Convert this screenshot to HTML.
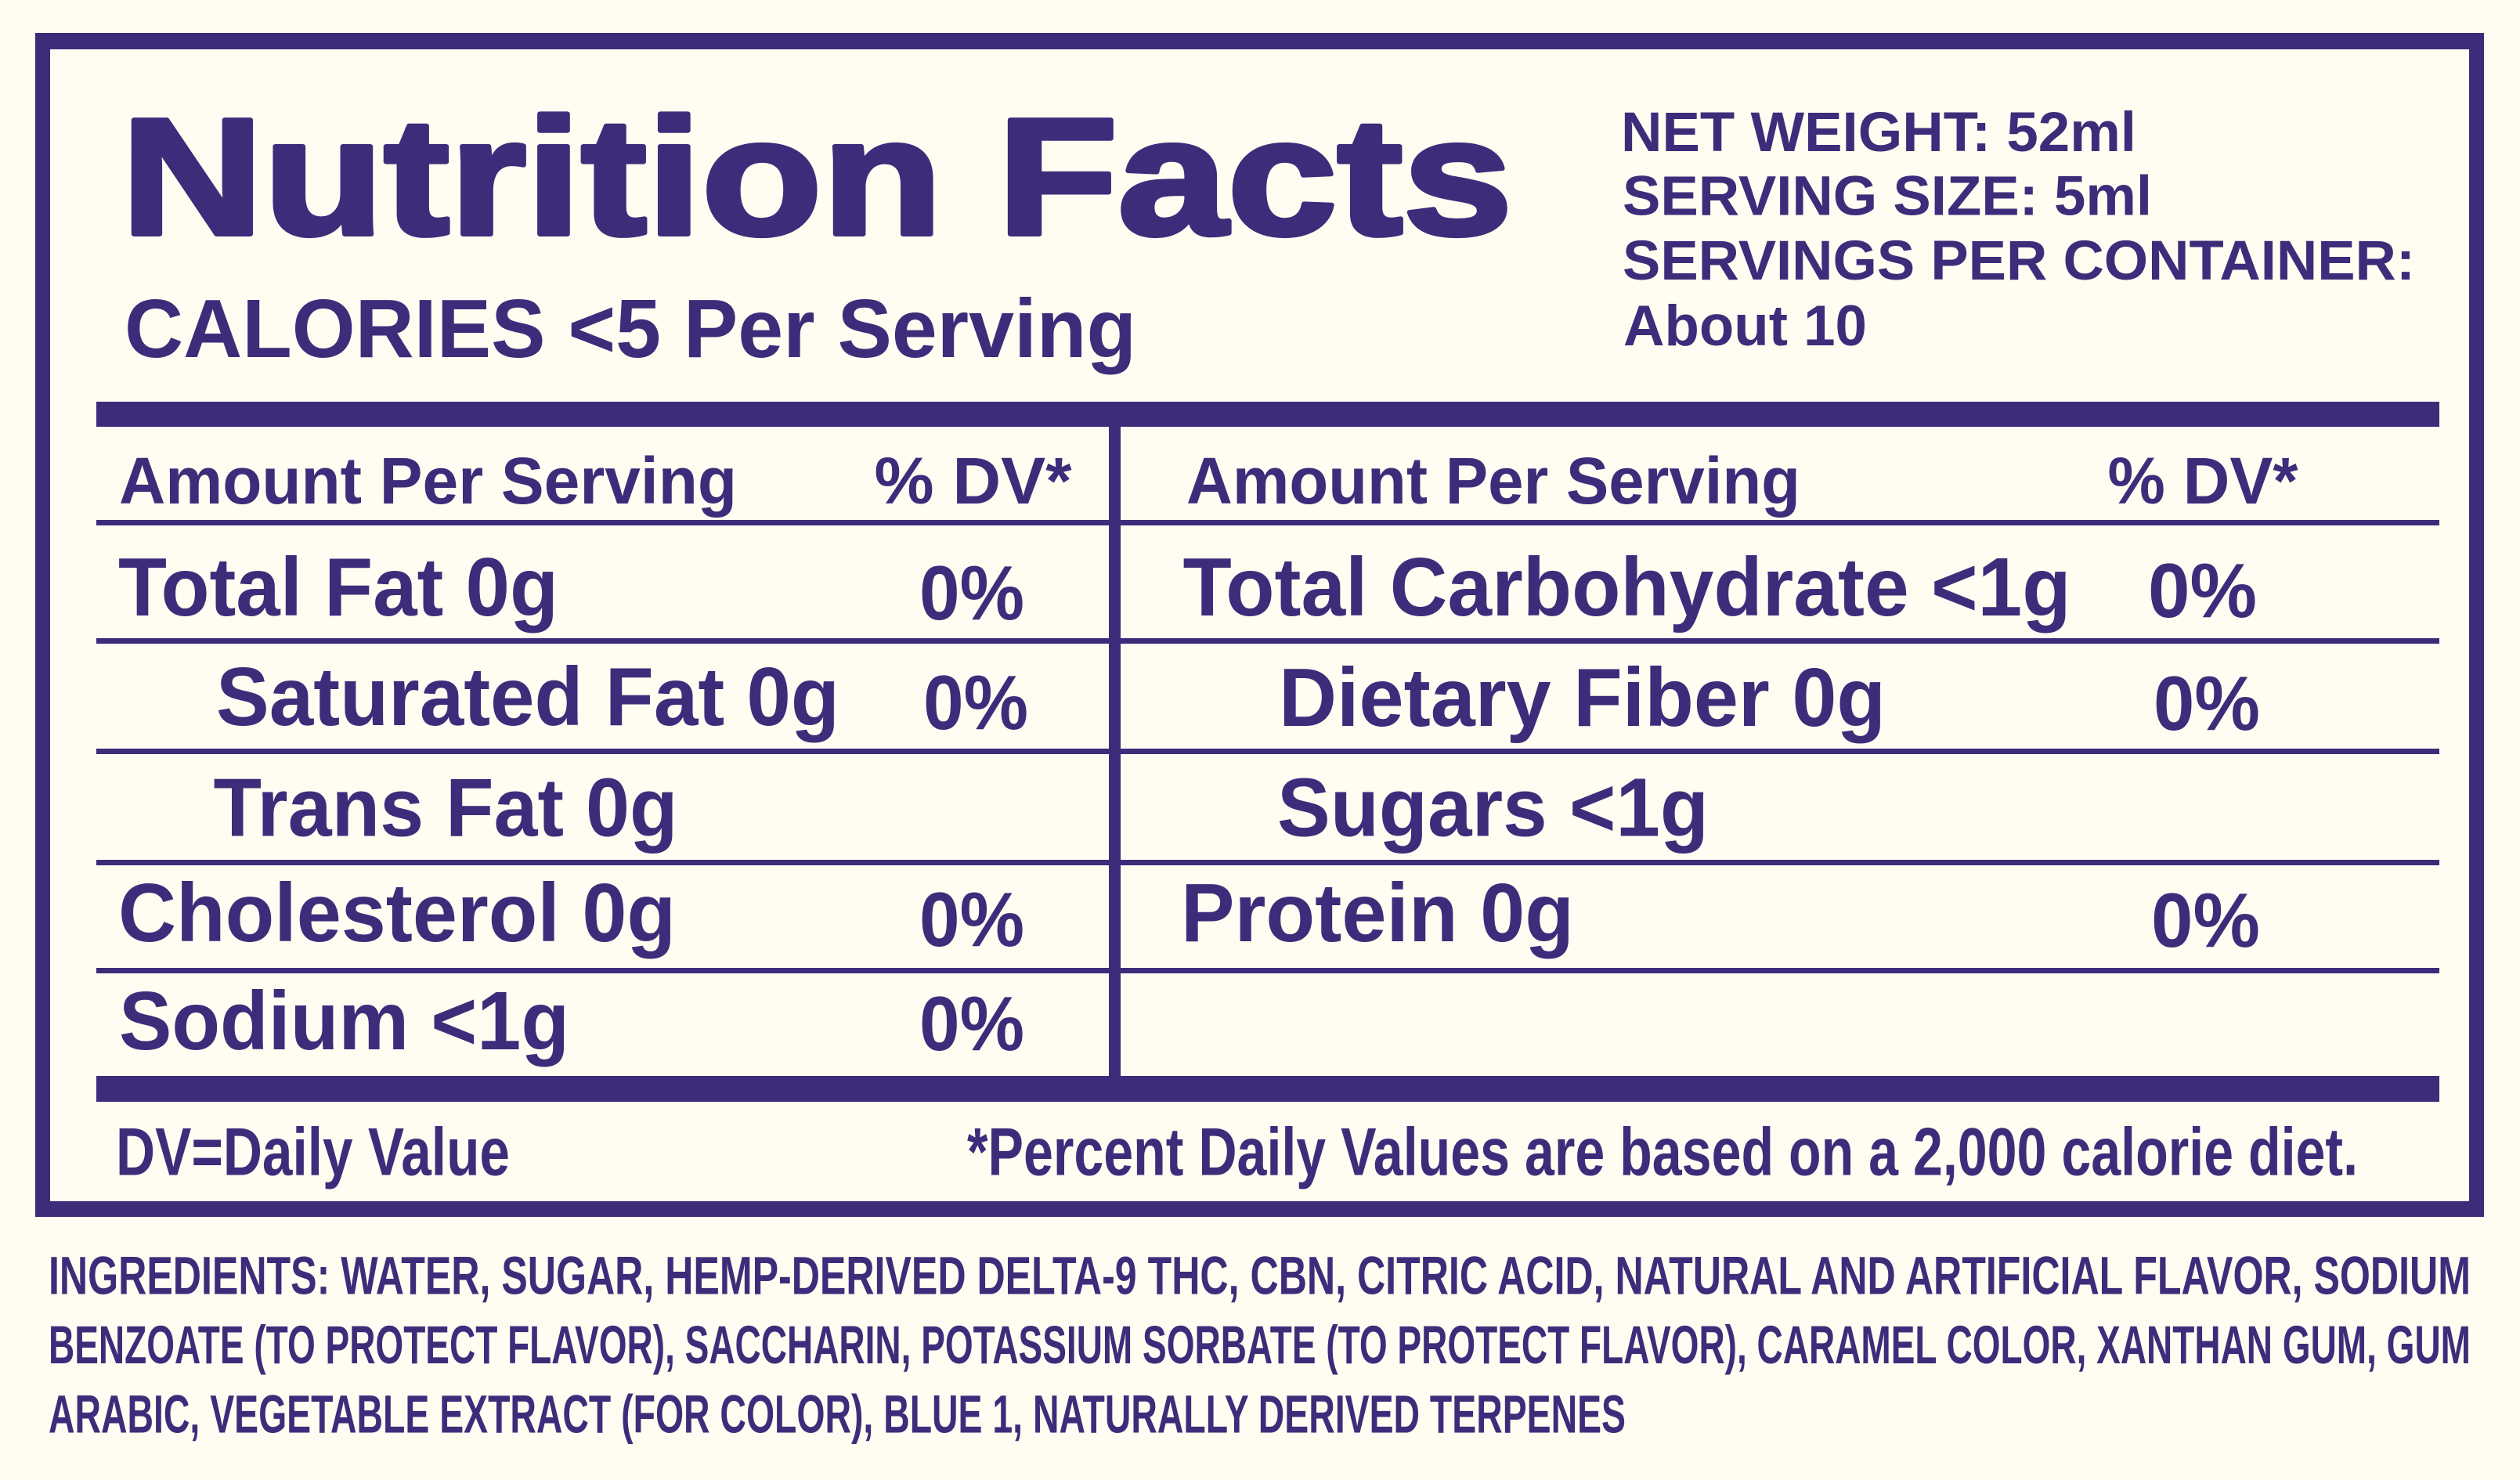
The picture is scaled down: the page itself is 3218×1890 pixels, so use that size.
<!DOCTYPE html>
<html>
<head>
<meta charset="utf-8">
<style>
html,body{margin:0;padding:0;background:#fffcf1;}
svg{display:block;}
text{font-family:"Liberation Sans", Arial, sans-serif;font-weight:bold;fill:#3e2c7b;}
</style>
</head>
<body>
<svg width="3218" height="1890" viewBox="0 0 3218 1890" xmlns="http://www.w3.org/2000/svg">
<rect width="3218" height="1890" fill="#fffcf1"/>
<g fill="#3e2c7b">
  <!-- outer border -->
  <rect x="45" y="42" width="3127" height="21"/>
  <rect x="45" y="1534" width="3127" height="20"/>
  <rect x="45" y="42" width="19" height="1512"/>
  <rect x="3153" y="42" width="19" height="1512"/>
  <!-- rules -->
  <rect x="123" y="513" width="2992" height="32"/>
  <rect x="123" y="664" width="2992" height="7"/>
  <rect x="123" y="815" width="2992" height="7"/>
  <rect x="123" y="956" width="2992" height="7"/>
  <rect x="123" y="1098" width="2992" height="7"/>
  <rect x="123" y="1236" width="2992" height="7"/>
  <rect x="123" y="1374" width="2992" height="33"/>
  <rect x="1416" y="545" width="15" height="829"/>
</g>

<!-- Title -->
<text x="154.5" y="299" font-size="212" textLength="1777" lengthAdjust="spacingAndGlyphs" stroke="#3e2c7b" stroke-width="6" stroke-linejoin="round">Nutrition Facts</text>
<text x="159" y="456" font-size="106" textLength="1292" lengthAdjust="spacingAndGlyphs">CALORIES &lt;5 Per Serving</text>

<!-- Header right -->
<text x="2070" y="193" font-size="71" textLength="658" lengthAdjust="spacingAndGlyphs">NET WEIGHT: 52ml</text>
<text x="2072" y="274.5" font-size="71" textLength="676" lengthAdjust="spacingAndGlyphs">SERVING SIZE: 5ml</text>
<text x="2072" y="357" font-size="71" textLength="1012" lengthAdjust="spacingAndGlyphs">SERVINGS PER CONTAINER:</text>
<text x="2073" y="441" font-size="73" textLength="311" lengthAdjust="spacingAndGlyphs">About 10</text>

<!-- Column headers -->
<text x="152" y="643" font-size="84" textLength="789" lengthAdjust="spacingAndGlyphs">Amount Per Serving</text>
<text x="1116.5" y="643" font-size="84" textLength="252" lengthAdjust="spacingAndGlyphs">% DV*</text>
<text x="1515" y="643" font-size="84" textLength="784" lengthAdjust="spacingAndGlyphs">Amount Per Serving</text>
<text x="2691.5" y="643" font-size="84" textLength="243" lengthAdjust="spacingAndGlyphs">% DV*</text>

<!-- Left rows -->
<text x="151" y="786" font-size="106" textLength="562" lengthAdjust="spacingAndGlyphs">Total Fat 0g</text>
<text x="1174" y="791" font-size="98" textLength="134" lengthAdjust="spacingAndGlyphs">0%</text>
<text x="276" y="926" font-size="106" textLength="796" lengthAdjust="spacingAndGlyphs">Saturated Fat 0g</text>
<text x="1179" y="931" font-size="98" textLength="134" lengthAdjust="spacingAndGlyphs">0%</text>
<text x="272.5" y="1067.5" font-size="106" textLength="593" lengthAdjust="spacingAndGlyphs">Trans Fat 0g</text>
<text x="151" y="1202" font-size="106" textLength="712" lengthAdjust="spacingAndGlyphs">Cholesterol 0g</text>
<text x="1174" y="1208" font-size="98" textLength="134" lengthAdjust="spacingAndGlyphs">0%</text>
<text x="152" y="1340" font-size="106" textLength="575" lengthAdjust="spacingAndGlyphs">Sodium &lt;1g</text>
<text x="1174" y="1341" font-size="98" textLength="134" lengthAdjust="spacingAndGlyphs">0%</text>

<!-- Right rows -->
<text x="1510.5" y="786" font-size="106" textLength="1134" lengthAdjust="spacingAndGlyphs">Total Carbohydrate &lt;1g</text>
<text x="2743" y="788" font-size="98" textLength="139" lengthAdjust="spacingAndGlyphs">0%</text>
<text x="1633" y="927" font-size="106" textLength="775" lengthAdjust="spacingAndGlyphs">Dietary Fiber 0g</text>
<text x="2750" y="932" font-size="98" textLength="136" lengthAdjust="spacingAndGlyphs">0%</text>
<text x="1631" y="1067.5" font-size="106" textLength="551" lengthAdjust="spacingAndGlyphs">Sugars &lt;1g</text>
<text x="1508" y="1202" font-size="106" textLength="502" lengthAdjust="spacingAndGlyphs">Protein 0g</text>
<text x="2747" y="1209" font-size="98" textLength="139" lengthAdjust="spacingAndGlyphs">0%</text>

<!-- Footer -->
<text x="148" y="1500.5" font-size="86" textLength="503" lengthAdjust="spacingAndGlyphs">DV=Daily Value</text>
<text x="1235" y="1500.5" font-size="86" textLength="1776" lengthAdjust="spacingAndGlyphs">*Percent Daily Values are based on a 2,000 calorie diet.</text>

<!-- Ingredients -->
<text x="62" y="1652.4" font-size="68.5" textLength="3093" lengthAdjust="spacingAndGlyphs">INGREDIENTS: WATER, SUGAR, HEMP-DERIVED DELTA-9 THC, CBN, CITRIC ACID, NATURAL AND ARTIFICIAL FLAVOR, SODIUM</text>
<text x="62" y="1741" font-size="68.5" textLength="3093" lengthAdjust="spacingAndGlyphs">BENZOATE (TO PROTECT FLAVOR), SACCHARIN, POTASSIUM SORBATE (TO PROTECT FLAVOR), CARAMEL COLOR, XANTHAN GUM, GUM</text>
<text x="62" y="1829.4" font-size="68.5" textLength="2014" lengthAdjust="spacingAndGlyphs">ARABIC, VEGETABLE EXTRACT (FOR COLOR), BLUE 1, NATURALLY DERIVED TERPENES</text>
</svg>
</body>
</html>
